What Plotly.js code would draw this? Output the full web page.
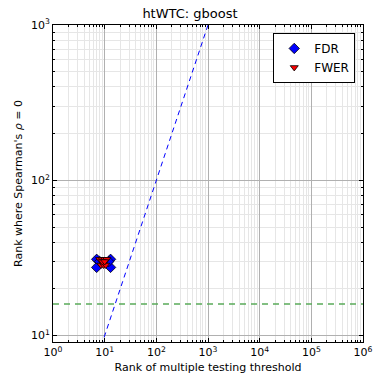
<!DOCTYPE html>
<html><head><meta charset="utf-8">
<script src="https://cdn.plot.ly/plotly-3.0.1.min.js"></script>
<style>body{margin:0;padding:0;background:#fff}#g{width:380px;height:387px}</style>
</head><body><div id="g"></div>
<script>
var fdrX = [7, 7, 13, 13, 8, 12];
var fdrY = [31, 27.5, 31, 27.5, 30, 30];
var fwerX = [8, 9, 10, 11, 8.5, 9.5, 10.5, 9, 10];
var fwerY = [31, 31, 31, 31, 28.5, 28.5, 28.5, 30, 30];
var diagX = [1, 1000000];
var diagY = [1, 1000000];
var hLineX = [1, 1000000];
var hLineY = [16, 16];
var xTickVals = [1, 10, 100, 1000, 10000, 100000, 1000000];
var xTickText = ['10<sup>0</sup>','10<sup>1</sup>','10<sup>2</sup>','10<sup>3</sup>','10<sup>4</sup>','10<sup>5</sup>','10<sup>6</sup>'];
var yTickVals = [10, 100, 1000];
var yTickText = ['10<sup>1</sup>','10<sup>2</sup>','10<sup>3</sup>'];

function minors(lo, hi) {
  var out = [];
  for (var e = lo; e < hi; e++) for (var k = 2; k <= 9; k++) out.push(k * Math.pow(10, e));
  return out;
}

var traces = [
  {x: diagX, y: diagY, mode: 'lines', line: {color: '#0000ff', dash: '5px,4px', width: 1}, showlegend: false, hoverinfo: 'skip'},
  {x: hLineX, y: hLineY, mode: 'lines', line: {color: '#5aaa5a', dash: '6px,5px', width: 1.5}, showlegend: false, hoverinfo: 'skip'},
  {x: fdrX, y: fdrY, mode: 'markers', name: 'FDR', marker: {symbol: 'diamond', color: '#0000ff', size: 8, line: {color: '#000', width: 0.8}}},
  {x: fwerX, y: fwerY, mode: 'markers', name: 'FWER', marker: {symbol: 'triangle-down', color: '#ff0000', size: 7, line: {color: '#000', width: 0.8}}}
];

var axBase = {
  type: 'log', showline: true, mirror: 'ticks', linecolor: '#000', linewidth: 1,
  ticks: 'inside', ticklen: 4, tickcolor: '#000', showgrid: true, gridcolor: '#b0b0b0', gridwidth: 1,
  zeroline: false, tickfont: {size: 11, color: '#000'}
};

var layout = {
  width: 380, height: 387,
  margin: {l: 53, r: 17, t: 25, b: 45},
  paper_bgcolor: '#fff', plot_bgcolor: '#fff',
  font: {family: 'DejaVu Sans, sans-serif', color: '#000'},
  title: {text: 'htWTC: gboost', font: {size: 13}, x: 0.5, xanchor: 'center', y: 0.966, yanchor: 'middle'},
  xaxis: Object.assign({}, axBase, {
    range: [0, 6], tickmode: 'array', tickvals: xTickVals, ticktext: xTickText,
    title: {text: 'Rank of multiple testing threshold', font: {size: 11}, standoff: 5},
    minor: {tickmode: 'array', tickvals: minors(0, 6), ticks: 'inside', ticklen: 2, tickcolor: '#000', showgrid: true, gridcolor: '#e6e6e6', gridwidth: 1}
  }),
  yaxis: Object.assign({}, axBase, {
    range: [Math.log10(9.1), 3], tickmode: 'array', tickvals: yTickVals, ticktext: yTickText,
    title: {text: "Rank where Spearman's <i>ρ</i> = 0", font: {size: 11}, standoff: 6},
    minor: {tickmode: 'array', tickvals: minors(0, 3).filter(function(v){return v > 9.1;}), ticks: 'inside', ticklen: 2, tickcolor: '#000', showgrid: true, gridcolor: '#e6e6e6', gridwidth: 1}
  }),
  legend: {x: 0.975, y: 0.975, xanchor: 'right', yanchor: 'top', bgcolor: '#fff', bordercolor: '#000', borderwidth: 1, font: {size: 12}, itemwidth: 30, tracegroupgap: 0},
  showlegend: true
};

Plotly.newPlot('g', traces, layout, {displayModeBar: false, staticPlot: true});
</script>
</body></html>
